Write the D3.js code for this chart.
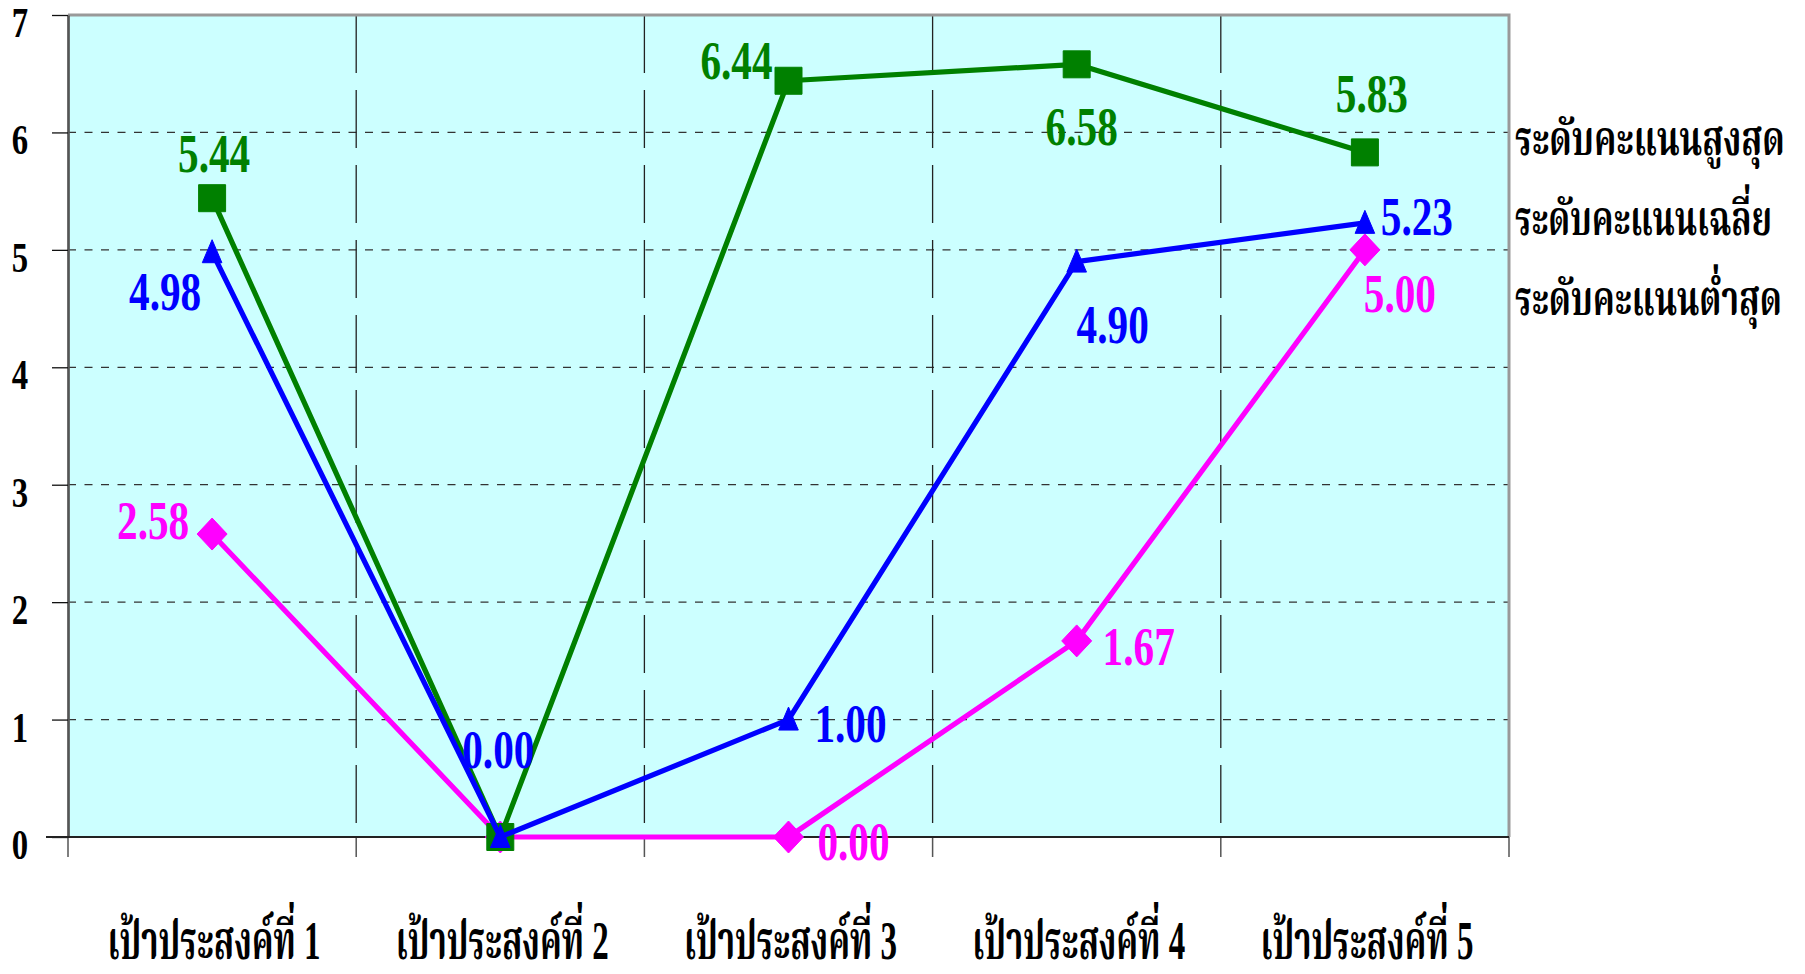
<!DOCTYPE html>
<html><head><meta charset="utf-8">
<script src="https://cdn.jsdelivr.net/npm/d3@7"></script>
<style>body{margin:0;background:#fff;} svg{display:block}</style>
</head><body><svg id="c" width="1805" height="974"></svg>
<script>
// ---- data ----
const categories = ["เป้าประสงค์ที่ 1","เป้าประสงค์ที่ 2","เป้าประสงค์ที่ 3","เป้าประสงค์ที่ 4","เป้าประสงค์ที่ 5"];
const maxValues = [5.44, 0.00, 6.44, 6.58, 5.83];
const avgValues = [4.98, 0.00, 1.00, 4.90, 5.23];
const minValues = [2.58, 0.00, 0.00, 1.67, 5.00];
const yTicks = [0,1,2,3,4,5,6,7];
const seriesNames = ["ระดับคะแนนสูงสุด","ระดับคะแนนเฉลี่ย","ระดับคะแนนต่ำสุด"];

// ---- layout / style (not data) ----
const plot = {left:68, right:1509, top:15, bottom:837};
const FONT = "'Liberation Serif','Times New Roman','Noto Serif Thai','Noto Sans Thai',serif";
// label offsets [dx, baseline dy] per point; null = not shown
const maxLabelPos = [[2,-26],null,[-52,-2],[5,81],[7,-40]];
const avgLabelPos = [[-47,58],[-2,-69],[62,22],[36,81],[52,12]];
const minLabelPos = [[-59,5],null,[65,23],[62,24],[35,62]];

const svg = d3.select("#c");
const x = d3.scaleBand().domain(categories).range([plot.left, plot.right]).padding(0);
const y = d3.scaleLinear().domain([0,7]).range([plot.bottom, plot.top]);
const bw = x.bandwidth();
const cx = i => x(categories[i]) + bw/2;

// background
svg.append("rect").attr("x",plot.left).attr("y",plot.top)
  .attr("width",plot.right-plot.left).attr("height",plot.bottom-plot.top)
  .attr("fill","#CCFFFF");

// horizontal gridlines
svg.append("g").selectAll("line").data(yTicks.filter(d=>d>0 && d<7)).join("line")
  .attr("x1",plot.left).attr("x2",plot.right)
  .attr("y1",d=>y(d)).attr("y2",d=>y(d))
  .attr("stroke","#333").attr("stroke-width",1.3).attr("stroke-dasharray","8,8.5");

// vertical gridlines at category boundaries
const bounds = categories.map(c=>x(c)).concat([x(categories[categories.length-1])+bw]);
svg.append("g").selectAll("line").data(bounds.slice(1,-1)).join("line")
  .attr("x1",d=>d).attr("x2",d=>d).attr("y1",plot.top).attr("y2",plot.bottom)
  .attr("stroke","#222").attr("stroke-width",1.3).attr("stroke-dasharray","58,17");

// top/right border
svg.append("path")
  .attr("d",`M${plot.left},${plot.top}H${plot.right}V${plot.bottom}`)
  .attr("fill","none").attr("stroke","#999").attr("stroke-width",3);

// x tick marks below axis
svg.append("g").selectAll("line").data(bounds).join("line")
  .attr("x1",d=>d).attr("x2",d=>d).attr("y1",plot.bottom).attr("y2",plot.bottom+20)
  .attr("stroke","#555").attr("stroke-width",1.5);

// y axis
const yAxis = svg.append("g").attr("transform",`translate(${plot.left},0)`)
  .call(d3.axisLeft(y).tickValues(yTicks).tickSize(16).tickSizeOuter(0).tickFormat(d3.format("d")));
yAxis.select(".domain").attr("stroke","#555").attr("stroke-width",2.7);
yAxis.selectAll(".tick line").attr("stroke","#111").attr("stroke-width",1.3);
yAxis.selectAll(".tick text")
  .attr("x",0).attr("dy",null).attr("y",21.5)
  .attr("text-anchor","middle")
  .attr("font-family",FONT).attr("font-weight","bold").attr("font-size",42).attr("fill","#000")
  .attr("transform","translate(-48,0) scale(0.78,1)");

// x axis line
svg.append("line").attr("x1",plot.left-22).attr("x2",plot.right)
  .attr("y1",plot.bottom).attr("y2",plot.bottom)
  .attr("stroke","#222").attr("stroke-width",2);

// fit helper: scale text horizontally to a target width
function fit(sel, target){
  sel.each(function(){
    const w = this.getComputedTextLength();
    const ax = +this.getAttribute("x"), ay = +this.getAttribute("y");
    const s = target / w;
    this.setAttribute("transform",`translate(${ax},${ay}) scale(${s},1) translate(${-ax},${-ay})`);
  });
}

// category labels
svg.append("g").selectAll("text").data(categories).join("text")
  .attr("x",(d,i)=>cx(i)+2).attr("y",959)
  .attr("text-anchor","middle")
  .attr("font-family",FONT).attr("font-weight","bold").attr("font-size",54).attr("fill","#000")
  .text(d=>d)
  .call(fit, 213);

// series
const series = [
  {vals:minValues, color:"#FF00FF", shape:"diamond", pos:minLabelPos},
  {vals:maxValues, color:"#008000", shape:"square", pos:maxLabelPos},
  {vals:avgValues, color:"#0000FF", shape:"triangle", pos:avgLabelPos}
];
const line = d3.line().x((d,i)=>cx(i)).y(d=>y(d));
function shapePath(s){
  if(s==="square") return "M-13.5,-13.5H13.5V13.5H-13.5Z";
  if(s==="triangle") return "M0,-12.5L9.8,10.5H-9.8Z";
  return "M0,-16L15,0L0,16L-15,0Z";
}
series.forEach(s=>{
  const g = svg.append("g");
  g.append("path").datum(s.vals).attr("d",line)
    .attr("fill","none").attr("stroke",s.color).attr("stroke-width",5.2).attr("stroke-linejoin","round");
  g.selectAll(".m").data(s.vals).join("path").attr("class","m")
    .attr("transform",(d,i)=>`translate(${cx(i)},${y(d)})`)
    .attr("d",shapePath(s.shape)).attr("fill",s.color)
    .attr("stroke",s.color).attr("stroke-width",1).attr("stroke-linejoin","round");
});
// value labels on top
series.forEach(s=>{
  svg.append("g").selectAll("text").data(s.vals.map((v,i)=>({v,i})).filter(d=>s.pos[d.i]))
    .join("text")
    .attr("text-anchor","middle")
    .attr("font-family",FONT).attr("font-weight","bold").attr("font-size",55).attr("fill",s.color)
    .attr("transform",d=>`translate(${cx(d.i)+s.pos[d.i][0]},${y(d.v)+s.pos[d.i][1]}) scale(0.75,1)`)
    .text(d=>d.v.toFixed(2));
});

// legend (text only)
svg.append("g").selectAll("text").data(seriesNames).join("text")
  .attr("x",1515).attr("y",(d,i)=>155+i*80)
  .attr("font-family",FONT).attr("font-weight","bold").attr("font-size",48).attr("fill","#000")
  .text(d=>d)
  .each(function(d,i){ fit(d3.select(this), [270,257,267][i]); });
</script>
</body></html>
